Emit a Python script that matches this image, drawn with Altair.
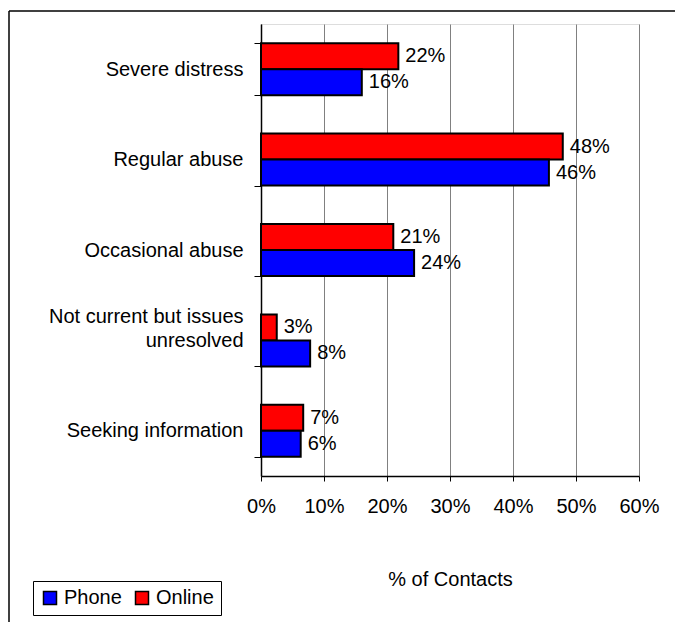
import altair as alt
import pandas as pd

categories = ["Severe distress", "Regular abuse", "Occasional abuse",
              "Not current but issues\nunresolved", "Seeking information"]
online = [0.218, 0.479, 0.210, 0.025, 0.067]
phone = [0.160, 0.457, 0.243, 0.078, 0.063]
series = ["Phone", "Online"]
colors = ["#0000FF", "#FF0000"]

rows = []
for c, o, p in zip(categories, online, phone):
    rows.append({"cat": c, "series": "Online", "value": o})
    rows.append({"cat": c, "series": "Phone", "value": p})
df = pd.DataFrame(rows)

FONT = "Liberation Sans"
FS = 20

y_enc = alt.Y("cat:N", sort=categories, title=None,
              scale=alt.Scale(paddingInner=0.425, paddingOuter=0.2125),
              axis=alt.Axis(tickBand="extent", tickSize=7, tickColor="black",
                            domainColor="black", domainWidth=1.5, labelPadding=11,
                            labelFontSize=FS, labelFont=FONT, labelColor="black",
                            labelLimit=300, labelLineHeight=24,
                            labelOffset={"condition": {"test": "indexof(datum.label, '\\n') >= 0",
                                                       "value": -24}, "value": 0},
                            labelExpr="split(datum.label, '\\n')"))
yoff = alt.YOffset("series:N", sort=["Online", "Phone"], scale=alt.Scale(paddingInner=0, paddingOuter=0))
x_enc = alt.X("value:Q", title="% of Contacts",
              scale=alt.Scale(domain=[0, 0.6], nice=False),
              axis=alt.Axis(format=".0%", values=[0, 0.1, 0.2, 0.3, 0.4, 0.5, 0.6],
                            grid=True, gridColor="#808080", gridWidth=1, labelFlush=False,
                            tickSize=5, tickColor="black", domainColor="black", domainWidth=1.5,
                            labelPadding=15, labelFontSize=FS, labelFont=FONT, labelColor="black",
                            titleFontSize=FS, titleFont=FONT, titleFontWeight="normal",
                            titleColor="black", titlePadding=53))

bars = alt.Chart(df).mark_bar(stroke="black", strokeWidth=2).encode(
    y=y_enc, yOffset=yoff, x=x_enc,
    color=alt.Color("series:N", scale=alt.Scale(domain=series, range=colors),
                    legend=alt.Legend(title=None, orient="none", legendX=-228, legendY=557,
                                      direction="horizontal", strokeColor="black",
                                      fillColor="white", padding=7, symbolType="square",
                                      symbolSize=169, symbolStrokeColor="black",
                                      symbolStrokeWidth=1.5, labelFontSize=FS, labelFont=FONT,
                                      labelColor="black", columnPadding=10, labelOffset=4,
                                      symbolOpacity=1)),
)
labels = alt.Chart(df).mark_text(align="left", baseline="middle", dx=7, fontSize=FS,
                                 font=FONT, color="black").encode(
    y=alt.Y("cat:N", sort=categories), yOffset=yoff, x="value:Q",
    text=alt.Text("value:Q", format=".0%"),
)

frame_top = alt.Chart(pd.DataFrame({"a": [0]})).mark_rule(color="black", strokeWidth=1.5).encode(
    x=alt.value(-252), x2=alt.value(500), y=alt.value(-13))
frame_left = alt.Chart(pd.DataFrame({"a": [0]})).mark_rule(color="black", strokeWidth=1.5).encode(
    x=alt.value(-252), y=alt.value(-13), y2=alt.value(700))

chart = alt.layer(frame_top, frame_left, bars, labels).properties(
    width=378, height=452,
    autosize=alt.AutoSizeParams(type="none"),
    padding={"left": 253, "top": 16, "right": 36, "bottom": 146},
).configure_view(stroke="#808080", strokeWidth=2).configure(background="white")

chart.save("out.html", embed_options={"renderer": "svg", "actions": False})
